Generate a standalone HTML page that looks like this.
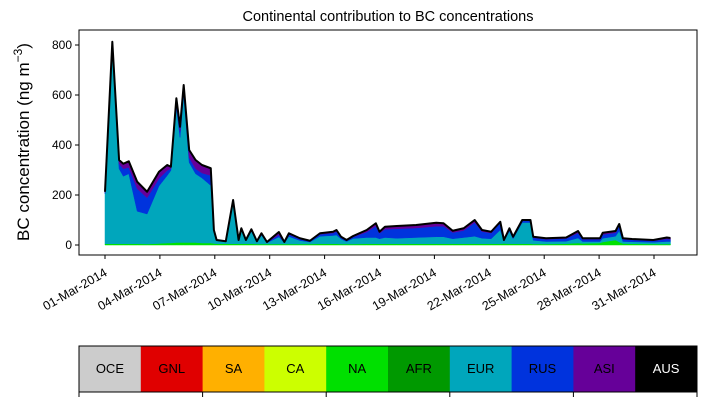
<!DOCTYPE html>
<html><head><meta charset="utf-8"><style>
body{margin:0;background:#fff;font-family:"Liberation Sans","DejaVu Sans",sans-serif;}
svg{display:block}
</style></head><body>
<svg id="c" width="707" height="402" font-family="Liberation Sans, DejaVu Sans, sans-serif"></svg>
<script>
const days=[0,0.4,0.77,1.0,1.3,1.76,2.3,2.95,3.4,3.6,3.9,4.1,4.3,4.6,4.95,5.3,5.78,5.95,6.1,6.6,7.0,7.3,7.45,7.7,8.0,8.3,8.55,8.85,9.5,9.8,10.05,10.65,11.2,11.75,12.46,12.65,12.9,13.2,13.56,14.3,14.8,15.0,15.3,15.94,17.0,18.1,18.5,19.0,19.6,20.2,20.6,21.1,21.6,21.8,22.1,22.3,22.8,23.25,23.4,24.1,25.2,25.85,26.1,27.05,27.2,27.9,28.1,28.3,28.8,29.96,30.7,30.9];
const na=[5,5,5,5,5,5,4,6,8,8,10,10,10,10,10,8,8,6,5,5,5,5,5,5,5,4,4,4,4,4,4,4,4,5,5,5,4,4,4,5,5,5,5,5,5,5,5,5,5,5,5,5,5,6,5,5,5,5,4,4,5,8,6,8,12,20,12,6,5,4,4,4];
const eur=[200,790,300,270,280,130,120,230,270,290,540,420,590,320,275,260,230,45,12,8,170,12,55,12,50,8,35,5,28,5,30,14,8,30,33,35,20,10,22,25,25,20,25,22,25,28,28,20,25,30,22,20,55,10,50,20,85,85,15,10,10,20,8,6,15,15,45,8,8,7,10,10];
const rus=[5,12,20,30,25,90,65,30,20,8,20,25,20,20,20,20,40,5,2,1,3,2,4,2,5,2,5,2,8,2,8,6,3,8,10,14,6,4,6,22,45,22,33,38,38,42,42,25,28,55,27,23,28,3,10,6,7,7,10,9,11,20,9,9,15,14,20,9,8,6,10,9];
const asi=[3,6,15,20,25,28,24,27,22,7,17,18,20,30,35,32,29,4,1,1,2,1,3,1,3,1,3,1,12,1,5,3,2,4,5,6,3,2,4,8,12,6,10,11,12,14,12,7,9,10,6,5,5,1,2,2,3,3,4,4,4,8,4,4,7,7,7,4,3,3,6,5];
const yTicks=[0,200,400,600,800];
const xTickDays=[0,3,6,9,12,15,18,21,24,27,30];
const xTickLabels=["01-Mar-2014","04-Mar-2014","07-Mar-2014","10-Mar-2014","13-Mar-2014","16-Mar-2014","19-Mar-2014","22-Mar-2014","25-Mar-2014","28-Mar-2014","31-Mar-2014"];
const regions=["OCE","GNL","SA","CA","NA","AFR","EUR","RUS","ASI","AUS"];
const regionColors=["#cccccc","#e00000","#ffb000","#ccff00","#00e000","#009900","#00a6bc","#0033dd","#660099","#000000"];

const NS="http://www.w3.org/2000/svg";
const svg=document.getElementById('c');
function el(t,a,p){const e=document.createElementNS(NS,t);for(const k in a)e.setAttribute(k,a[k]);(p||svg).appendChild(e);return e;}
const L=79,R=697,T=30,B=255;
const xs=d=>105+d*18.3;
const ys=v=>245-v*0.25;

const series=[na,eur,rus,asi];
const sNames=["area-na","area-eur","area-rus","area-asi"];
const sCols=["#00e000","#00a6bc","#0033dd","#660099"];
let base=days.map(()=>0);
series.forEach((s,i)=>{
  const top=base.map((b,j)=>b+s[j]);
  let pts=days.map((d,j)=>xs(d)+","+ys(top[j]));
  for(let j=days.length-1;j>=0;j--)pts.push(xs(days[j])+","+ys(base[j]));
  const p=el('polygon',{points:pts.join(' '),fill:sCols[i],stroke:sCols[i],'stroke-width':0.5});
  
  
  base=top;
});
const tl=el('polyline',{points:days.map((d,j)=>xs(d)+","+ys(base[j])).join(' '),fill:'none',stroke:'#000','stroke-width':2,'stroke-linejoin':'round'});



const fr=el('rect',{x:L,y:T,width:R-L,height:B-T,fill:'none',stroke:'#000','stroke-width':1});



yTicks.forEach(v=>{
  el('line',{x1:L-4,x2:L,y1:ys(v),y2:ys(v),stroke:'#000'});
  const t=el('text',{x:L-7,y:ys(v)+4,'text-anchor':'end','font-size':12});
  t.textContent=v;
  
  
});
xTickDays.forEach((d,i)=>{
  const x=xs(d);
  el('line',{x1:x,x2:x,y1:B,y2:B+4,stroke:'#000'});
  const t=el('text',{x:0,y:0,'text-anchor':'end','font-size':12.5,transform:`translate(${x+3},${B+20}) rotate(-30)`});
  t.textContent=xTickLabels[i];
  
  
});
const title=el('text',{x:388,y:21,'text-anchor':'middle','font-size':14.5});
title.textContent="Continental contribution to BC concentrations";


const yl=el('text',{x:0,y:0,'text-anchor':'middle','font-size':17,transform:'translate(29,142) rotate(-90)'});
yl.innerHTML='BC concentration (ng m<tspan baseline-shift="super" font-size="12">−3</tspan>)';



const cw=(R-L)/regions.length;
regions.forEach((r,i)=>{
  const rc=el('rect',{x:L+i*cw,y:346,width:cw+0.5,height:46,fill:regionColors[i]});
  
  
  const t=el('text',{x:L+i*cw+cw/2,y:373,'text-anchor':'middle','font-size':13,fill:r==="AUS"?"#fff":"#000"});
  t.textContent=r;
  
  
});
const cb=el('rect',{x:L,y:346,width:R-L,height:46,fill:'none',stroke:'#000','stroke-width':1});


for(let i=0;i<=5;i++){const x=L+i*2*cw;el('line',{x1:x,x2:x,y1:392,y2:397,stroke:'#000'});}
</script>
</body></html>
